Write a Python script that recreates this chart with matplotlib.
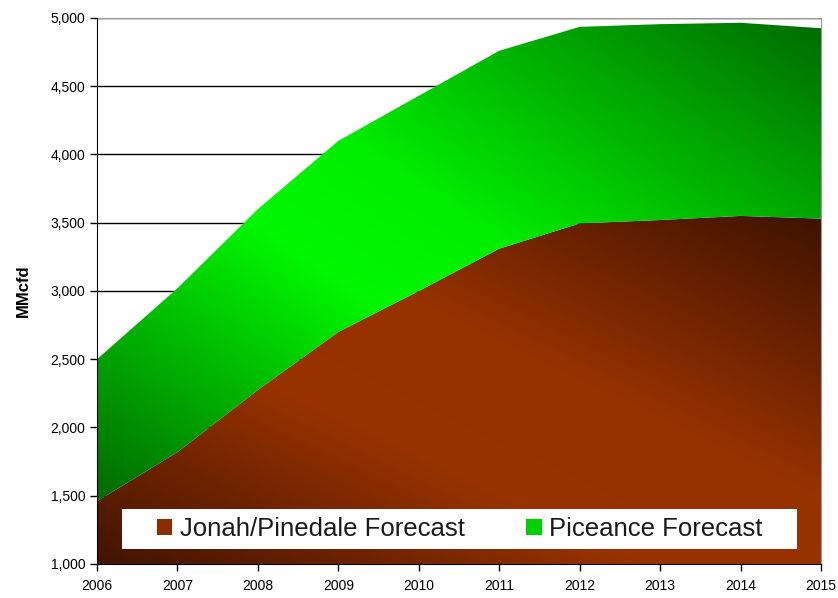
import numpy as np
import matplotlib.pyplot as plt
from matplotlib.colors import LinearSegmentedColormap
from matplotlib.patches import Patch, Rectangle

plt.rcParams['font.family'] = ['Liberation Sans', 'DejaVu Sans']

years = [2006, 2007, 2008, 2009, 2010, 2011, 2012, 2013, 2014, 2015]
jonah = [1460, 1820, 2275, 2700, 3000, 3310, 3495, 3520, 3550, 3530]
piceance_total = [2500, 3020, 3600, 4100, 4430, 4760, 4935, 4955, 4965, 4925]
piceance = [t - j for t, j in zip(piceance_total, jonah)]
y_ticks = [1000, 1500, 2000, 2500, 3000, 3500, 4000, 4500, 5000]

# dark corner -> bright middle -> dark corner (diagonal, lower left to upper right)
brown_cmap = LinearSegmentedColormap.from_list(
    'brown', [(0, '#421400'), (0.38, '#993300'), (0.6, '#963200'), (1, '#3e1300')])
green_cmap = LinearSegmentedColormap.from_list(
    'green', [(0, '#006a00'), (0.4, '#00f800'), (0.55, '#00ee00'), (1, '#006c00')])

fig = plt.figure(figsize=(8.38, 5.98), dpi=100)
ax = fig.add_axes([0.1158, 0.0569, 0.8639, 0.913])

x = np.array(years, dtype=float)
base = np.full(len(x), 1000.0)
top1 = np.array(jonah, dtype=float)
top2 = top1 + np.array(piceance, dtype=float)


def gradient_fill(ax, lo, hi, cmap):
    poly = ax.fill_between(x, lo, hi, facecolor='none', edgecolor='none', zorder=2)
    x0, x1 = x.min(), x.max()
    y0, y1 = lo.min(), hi.max()
    n = 300
    u, v = np.meshgrid(np.linspace(0, 1, n), np.linspace(0, 1, n))
    s = (u + v) / 2
    im = ax.imshow(s, cmap=cmap, origin='lower', extent=[x0, x1, y0, y1],
                   aspect='auto', zorder=2, interpolation='bilinear')
    im.set_clip_path(poly.get_paths()[0], transform=ax.transData)


gradient_fill(ax, base, top1, brown_cmap)
gradient_fill(ax, top1, top2, green_cmap)

ax.set_xlim(2006, 2015)
ax.set_ylim(1000, 5000)
ax.set_xticks(years)
ax.set_yticks(y_ticks)
ax.set_yticklabels([f'{v:,}' for v in y_ticks])
ax.yaxis.grid(True, color='black', linewidth=1)
ax.set_axisbelow(True)
ax.tick_params(axis='both', direction='out', length=5, width=1, labelsize=10, colors='black')
ax.tick_params(axis='x', pad=6)
for s in ['top', 'right']:
    ax.spines[s].set_color('#999999')
for s in ['left', 'bottom']:
    ax.spines[s].set_color('black')
    ax.spines[s].set_zorder(5)
ax.set_ylabel('MMcfd', fontsize=12, fontweight='bold', labelpad=14)

# legend box
ax.add_patch(Rectangle((0.0345, 0.0275), 0.932, 0.073, transform=ax.transAxes,
                       facecolor='white', edgecolor='none', zorder=4))
handles = [Patch(facecolor='#8a2e00', edgecolor='none', label='Jonah/Pinedale Forecast'),
           Patch(facecolor='#00d000', edgecolor='none', label='Piceance Forecast')]
leg = ax.legend(handles=handles, loc='center', ncol=2, bbox_to_anchor=(0.501, 0.064),
                frameon=False, fontsize=18.5, handlelength=0.6, handleheight=0.6,
                handletextpad=0.3, columnspacing=2.4, borderaxespad=0, borderpad=0)
for t in leg.get_texts():
    t.set_color('#1a1a1a')
leg.set_zorder(6)

fig.savefig('out.png', dpi=100)
